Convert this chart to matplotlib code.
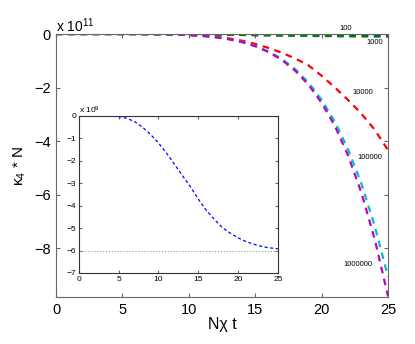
import matplotlib
matplotlib.use('Agg')
import matplotlib.pyplot as plt

plt.rcParams['font.family'] = ['Liberation Sans', 'DejaVu Sans']
plt.rcParams['mathtext.fontset'] = 'custom'
plt.rcParams['mathtext.rm'] = 'Liberation Sans'
plt.rcParams['mathtext.it'] = 'Liberation Sans:italic'

# 时间轴 N chi t
t = list(range(0, 26))

# 主图: kappa_4 * N (单位 1e11)
k_100 = [0, 0, 0, 0, -0.0001, -0.0003, -0.001, -0.0025, -0.005, -0.0082, -0.012, -0.0165,
         -0.0215, -0.0265, -0.0315, -0.037, -0.042, -0.046, -0.0497, -0.0522, -0.0543,
         -0.056, -0.0572, -0.0582, -0.0588, -0.0592]
k_1000 = [0, 0, 0, 0, -0.0001, -0.0003, -0.001, -0.0025, -0.005, -0.0085, -0.013, -0.018,
          -0.024, -0.030, -0.037, -0.044, -0.051, -0.058, -0.065, -0.071, -0.077,
          -0.082, -0.087, -0.091, -0.095, -0.098]
k_10000 = [0, 0, 0, 0, -0.0002, -0.0006, -0.0019, -0.0046, -0.010, -0.020, -0.035, -0.06,
           -0.10, -0.16, -0.25, -0.37, -0.52, -0.70, -0.91, -1.17, -1.56,
           -2.0, -2.47, -2.98, -3.58, -4.34]
k_100000 = [0, 0, 0, 0, -0.0002, -0.0006, -0.0019, -0.0047, -0.0104, -0.021, -0.040, -0.070,
            -0.118, -0.190, -0.295, -0.44, -0.65, -0.93, -1.31, -1.81, -2.46,
            -3.28, -4.32, -5.60, -7.18, -9.07]
k_1000000 = [0, 0, 0, 0, -0.0002, -0.0006, -0.0019, -0.0047, -0.0105, -0.021, -0.040, -0.071,
             -0.120, -0.194, -0.302, -0.457, -0.673, -0.969, -1.365, -1.889, -2.57,
             -3.44, -4.55, -5.94, -7.67, -9.8]

# 插图: N = 100 (单位 1e9)
inset_100 = [0, 0, 0, 0, -0.01, -0.03, -0.1, -0.25, -0.5, -0.82, -1.2, -1.65, -2.15, -2.65,
             -3.15, -3.7, -4.2, -4.6, -4.97, -5.22, -5.43, -5.6, -5.72, -5.82, -5.88, -5.92]
inset_limit = [-6] * len(t)

labels = ['100', '1000', '10000', '100000', '1000000']
label_pos = [(21.8, 0.19), (24.0, -0.3), (23.1, -2.17), (23.6, -4.6), (22.7, -8.63)]

fig = plt.figure(figsize=(4.15, 3.44), dpi=100)
ax = fig.add_axes([0.135, 0.1366, 0.8, 0.7645])

series = [k_100, k_1000, k_10000, k_100000, k_1000000]
colors = ['#0000ff', '#008000', '#ff0000', '#00bfbf', '#bf00bf']
for ys, c in zip(series, colors):
    ax.plot(t, ys, '--', color=c, lw=1.6, dashes=(3, 2.5))

for lab, (x, y) in zip(labels, label_pos):
    ax.text(x, y, lab, fontsize=5.5, ha='center', va='center', clip_on=False)

ax.set_xlim(0, 25)
ax.set_ylim(-9.83, 0)
ax.set_xticks([0, 5, 10, 15, 20, 25])
ax.set_yticks([-8, -6, -4, -2, 0])
ax.set_yticklabels(['\u22128', '\u22126', '\u22124', '\u22122', '0'])
ax.tick_params(direction='in', top=True, right=True, labelsize=10.5, length=3,
               color='#666666', pad=4)
for sp in ax.spines.values():
    sp.set_color('#666666')
ax.text(0.0, 0.995, 'x 10$^{11}$', transform=ax.transAxes, fontsize=10,
        ha='left', va='bottom')
ax.set_xlabel('N\u03c7 t', fontsize=11.5, labelpad=0)
ax.set_ylabel('\u03ba$_4$ * N', fontsize=11, labelpad=4)

# 插图
ins = fig.add_axes([0.190, 0.2064, 0.4795, 0.4564])
ins.plot(t, inset_limit, ':', color='#66c266', lw=0.8)
ins.plot(t, inset_100, '--', color='#0000ff', lw=0.9, dashes=(2.5, 2))
ins.set_xlim(0, 25)
ins.set_ylim(-7, 0)
ins.set_xticks([0, 5, 10, 15, 20, 25])
ins.set_yticks([-7, -6, -5, -4, -3, -2, -1, 0])
ins.set_yticklabels(['\u22127', '\u22126', '\u22125', '\u22124', '\u22123', '\u22122', '\u22121', '0'])
ins.tick_params(direction='in', top=True, right=True, labelsize=6, length=2,
                color='#666666', pad=2)
for sp in ins.spines.values():
    sp.set_color('#333333')
ins.text(0.0, 1.0, 'x 10$^{9}$', transform=ins.transAxes, fontsize=6,
         ha='left', va='bottom')

fig.savefig('out.png', dpi=100)
